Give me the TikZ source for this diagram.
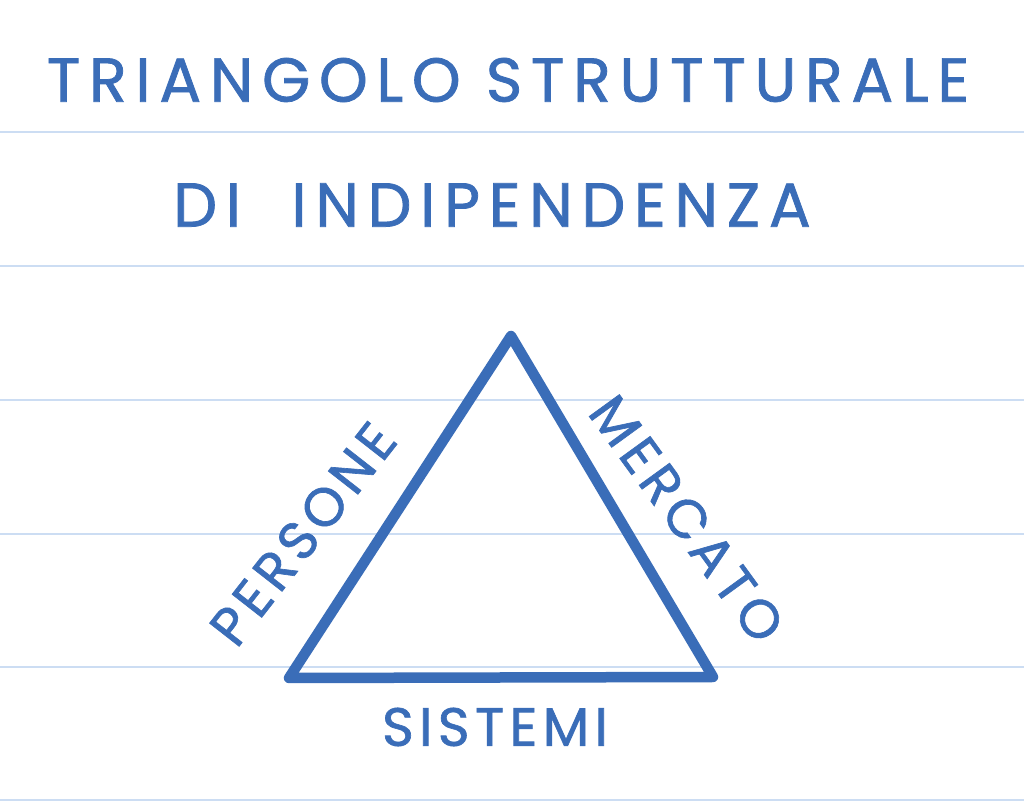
\documentclass[tikz,border=0pt]{standalone}
\usepackage{fontspec}
\setmainfont{Poppins}
\newfontfamily\handfont[LetterSpace=14,FakeBold=1.2]{Poppins}
\newfontfamily\labelfont[LetterSpace=10,FakeBold=1.2]{Poppins}
\definecolor{ink}{HTML}{3A6DB8}
\definecolor{rule}{HTML}{CCDDF3}
\begin{document}
\begin{tikzpicture}[x=1pt,y=1pt,
  ruleline/.style={rule, line width=1.8pt},
  title/.style={ink, inner sep=0pt, font=\handfont\fontsize{62}{62}\selectfont},
  label/.style={ink, inner sep=0pt, font=\labelfont\fontsize{54}{54}\selectfont},
  tri/.style={ink, line width=10.5pt, line join=round}]
\fill[white] (0,0) rectangle (1024,802);
\useasboundingbox (0,0) rectangle (1024,802);
\foreach \y in {132,266,400,534,667,800} {
  \draw[ruleline] (0,802-\y) -- (1024,802-\y);
}
\node[title] (t1) at (508,802-80) {TRIANGOLO STRUTTURALE};
\node[title] (t2) at (492,802-205) {DI\ \ INDIPENDENZA};
\coordinate (A) at (511,802-336);
\coordinate (B) at (289,802-678);
\coordinate (C) at (713,802-677);
\draw[tri] (A) -- (B) -- (C) -- cycle;
\node[label, rotate=52] (p) at (303,802-534) {PERSONE};
\node[label, rotate=-54] (m) at (687,802-519) {MERCATO};
\node[label] (s) at (495,802-727) {SISTEMI};
\end{tikzpicture}
\end{document}
